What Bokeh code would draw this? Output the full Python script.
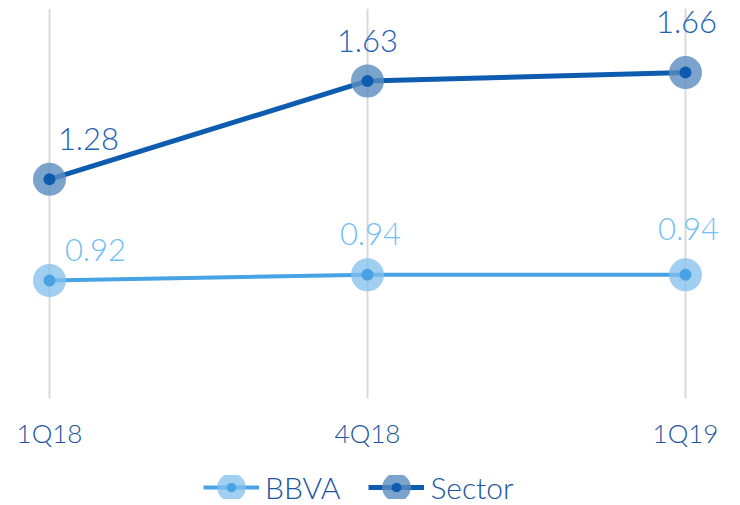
from bokeh.plotting import figure
from bokeh.models import ColumnDataSource, Legend, LegendItem, FixedTicker, Range1d
from bokeh.embed import file_html
from bokeh.resources import INLINE
from bokeh.core.properties import value

categories = ["1Q18", "4Q18", "1Q19"]
bbva = [0.92, 0.94, 0.94]
sector = [1.28, 1.63, 1.66]
bbva_labels = ["0.92", "0.94", "0.94"]
sector_labels = ["1.28", "1.63", "1.66"]

# label offsets (style, screen px)
bbva_dx = [46, 3, 3]
bbva_dy = [-30, -41, -46]
sector_dx = [39, 0, 1]
sector_dy = [-40, -40, -51]

FONT = "Lato Light"
x = list(range(len(categories)))
Y_MIN = 0.5  # bottom of value area, where the category axis sits

p = figure(width=740, height=505, output_backend="svg", toolbar_location=None,
           x_range=Range1d(-0.154, 2.173), y_range=Range1d(0.119, 1.888),
           min_border_left=0, min_border_right=0, min_border_top=8, min_border_bottom=0)
p.outline_line_color = None
p.yaxis.visible = False
p.grid.visible = False

xa = p.xaxis[0]
xa.fixed_location = Y_MIN
xa.level = "underlay"
xa.ticker = FixedTicker(ticks=x)
xa.major_label_overrides = {i: c for i, c in enumerate(categories)}
xa.axis_line_color = None
xa.minor_tick_line_color = None
xa.minor_tick_in = 0
xa.minor_tick_out = 0
# ticks drawn upward act as the vertical grid lines
xa.major_tick_in = 390
xa.major_tick_out = 0
xa.major_tick_line_color = "#d9d9d9"
xa.major_tick_line_width = 2
xa.major_label_text_font = FONT
xa.major_label_text_font_size = "26px"
xa.major_label_text_color = "#1a54a0"
xa.major_label_standoff = 19

src_b = ColumnDataSource(dict(x=x, y=bbva, lab=bbva_labels, dx=bbva_dx, dy=bbva_dy))
src_s = ColumnDataSource(dict(x=x, y=sector, lab=sector_labels, dx=sector_dx, dy=sector_dy))

lb = p.line("x", "y", source=src_b, line_color="#48a3e4", line_width=4)
hb = p.scatter("x", "y", source=src_b, size=14, fill_color=None, line_color="#80bfee",
               line_alpha=0.75, line_width=19)
db = p.scatter("x", "y", source=src_b, size=12, fill_color="#48a3e4", line_color=None)

ls = p.line("x", "y", source=src_s, line_color="#0e5cb0", line_width=5)
hs = p.scatter("x", "y", source=src_s, size=14, fill_color=None, line_color="#5a8cbf",
               line_alpha=0.8, line_width=19)
ds = p.scatter("x", "y", source=src_s, size=12, fill_color="#0e5cb0", line_color=None)

p.text("x", "y", text="lab", source=src_b, x_offset="dx", y_offset="dy",
       text_font=value(FONT), text_font_size="31px", text_color="#6fc0f4",
       text_align="center", text_baseline="middle")
p.text("x", "y", text="lab", source=src_s, x_offset="dx", y_offset="dy",
       text_font=value(FONT), text_font_size="31px", text_color="#1f63b3",
       text_align="center", text_baseline="middle")

legend = Legend(items=[LegendItem(label="BBVA", renderers=[lb, hb, db]),
                       LegendItem(label="Sector", renderers=[ls, hs, ds])],
                orientation="horizontal", location=(203, 0),
                label_text_font=FONT, label_text_font_size="30px", label_text_color="#1a54a0",
                glyph_width=56, glyph_height=24, label_standoff=6, spacing=28,
                padding=0, margin=0, border_line_color=None, background_fill_alpha=0)
p.add_layout(legend, "center")

open("out.html", "w").write(file_html(p, INLINE))
